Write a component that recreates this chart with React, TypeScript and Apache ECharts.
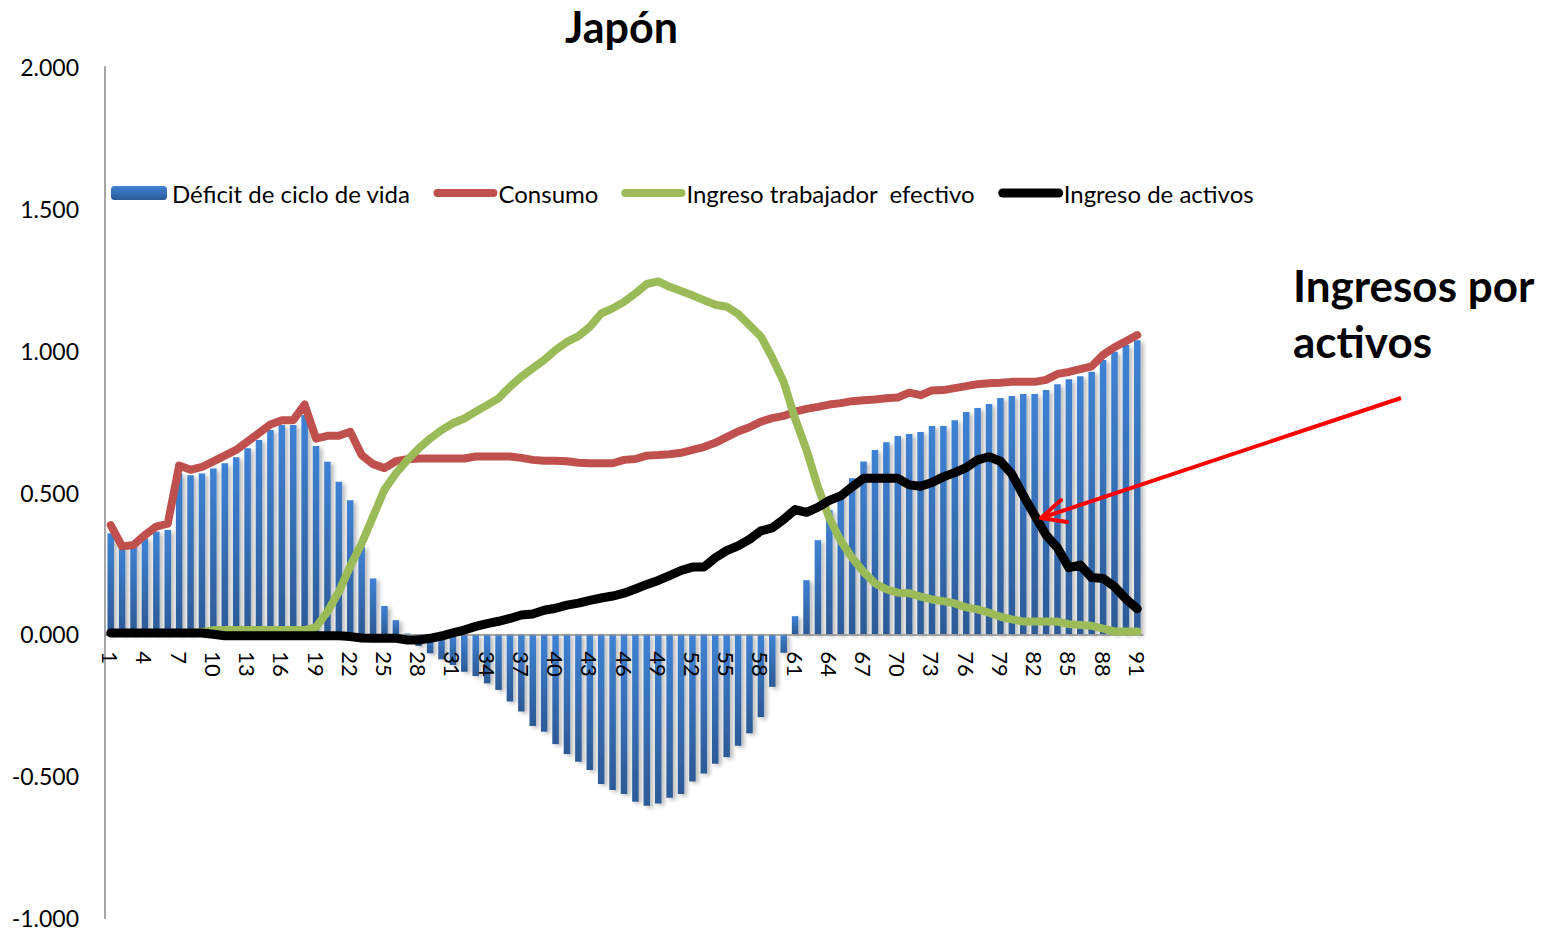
import React, { useEffect, useRef } from "react";
import * as echarts from "echarts";

const categories: string[] = Array.from({ length: 91 }, (_, i) => String(i + 1));

const deficitCicloVida = [
  0.356, 0.32, 0.326, 0.338, 0.362, 0.368, 0.567, 0.561, 0.567, 0.585,
  0.603, 0.624, 0.656, 0.685, 0.72, 0.738, 0.738, 0.773, 0.664, 0.608,
  0.538, 0.473, 0.309, 0.197, 0.1, 0.05, 0.003, -0.041, -0.067, -0.088,
  -0.108, -0.132, -0.147, -0.173, -0.196, -0.237, -0.272, -0.323, -0.343, -0.387,
  -0.422, -0.449, -0.478, -0.528, -0.549, -0.563, -0.59, -0.604, -0.596, -0.576,
  -0.563, -0.519, -0.491, -0.456, -0.433, -0.393, -0.349, -0.292, -0.185, -0.065,
  0.064, 0.191, 0.332, 0.438, 0.5, 0.55, 0.609, 0.65, 0.677, 0.699,
  0.706, 0.713, 0.734, 0.734, 0.755, 0.784, 0.798, 0.812, 0.833, 0.84,
  0.847, 0.847, 0.861, 0.882, 0.899, 0.91, 0.926, 0.967, 0.996, 1.02,
  1.037,
];

const consumo = [
  0.385, 0.31, 0.315, 0.35, 0.38, 0.39, 0.595, 0.58, 0.59, 0.61,
  0.63, 0.65, 0.68, 0.71, 0.74, 0.755, 0.755, 0.81, 0.69, 0.7,
  0.7, 0.714, 0.632, 0.6, 0.586, 0.61, 0.617, 0.62, 0.62, 0.62,
  0.62, 0.62, 0.627, 0.627, 0.627, 0.627, 0.622, 0.615, 0.612, 0.612,
  0.61, 0.605, 0.603, 0.603, 0.603, 0.615, 0.618, 0.63, 0.632, 0.635,
  0.64, 0.65, 0.66, 0.675, 0.695, 0.715, 0.73, 0.75, 0.762, 0.77,
  0.785, 0.795, 0.802, 0.81, 0.815, 0.822, 0.825, 0.828, 0.832, 0.835,
  0.852, 0.843, 0.86, 0.861, 0.868, 0.875, 0.882, 0.885, 0.887, 0.89,
  0.89, 0.89, 0.897, 0.918, 0.925, 0.935, 0.945, 0.985, 1.012, 1.033,
  1.055,
];

const ingresoTrabajador = [
  0.005, 0.005, 0.005, 0.005, 0.005, 0.005, 0.005, 0.005, 0.008, 0.015,
  0.015, 0.015, 0.015, 0.015, 0.015, 0.015, 0.015, 0.015, 0.025, 0.08,
  0.15, 0.24, 0.32, 0.415, 0.51, 0.567, 0.614, 0.655, 0.69, 0.72,
  0.744, 0.761, 0.785, 0.808, 0.832, 0.873, 0.908, 0.938, 0.967, 1.002,
  1.031, 1.051, 1.084, 1.131, 1.149, 1.172, 1.202, 1.235, 1.244, 1.225,
  1.21, 1.195, 1.178, 1.162, 1.155, 1.13, 1.09, 1.05, 0.975, 0.89,
  0.76, 0.65, 0.52, 0.41, 0.33, 0.27, 0.22, 0.18, 0.159, 0.147,
  0.145, 0.133, 0.123, 0.117, 0.109, 0.095, 0.088, 0.076, 0.062, 0.053,
  0.045, 0.045, 0.045, 0.045, 0.036, 0.033, 0.03, 0.02, 0.01, 0.01,
  0.01,
];

const ingresoActivos = [
  0.005, 0.005, 0.005, 0.005, 0.005, 0.005, 0.005, 0.005, 0.005, 0.0,
  -0.005, -0.005, -0.005, -0.005, -0.005, -0.005, -0.005, -0.005, -0.005, -0.005,
  -0.005, -0.008, -0.013, -0.014, -0.014, -0.014, -0.02, -0.02, -0.014, -0.006,
  0.005, 0.015, 0.028, 0.038, 0.046, 0.056, 0.068, 0.072, 0.085, 0.092,
  0.103, 0.11, 0.12, 0.128, 0.135, 0.145, 0.16, 0.176, 0.19, 0.207,
  0.225, 0.237, 0.237, 0.27, 0.295, 0.312, 0.335, 0.365, 0.375, 0.405,
  0.44, 0.43, 0.448, 0.472, 0.488, 0.52, 0.55, 0.55, 0.55, 0.55,
  0.527, 0.522, 0.535, 0.555, 0.57, 0.588, 0.615, 0.626, 0.61, 0.565,
  0.49, 0.42, 0.35, 0.305, 0.235, 0.244, 0.2, 0.197, 0.168, 0.125,
  0.09,
];

const seriesNames = [
  "Déficit de ciclo de vida",
  "Consumo",
  "Ingreso trabajador  efectivo",
  "Ingreso de activos",
];

const titleText = "Japón";
const annotationText = "Ingresos por\nactivos";

const Y_MIN = -1;
const Y_MAX = 2;
const GRID_TOP = 67;
const GRID_HEIGHT = 851;

const FONT = "Lato, 'Open Sans', sans-serif";

export default function App() {
  const ref = useRef<HTMLDivElement>(null);

  useEffect(() => {
    if (!ref.current) return;
    const chart = echarts.init(ref.current, null, { renderer: "svg" });
    const lineSeries = (name: string, data: number[], color: string, width: number) => ({
      name,
      type: "line",
      data,
      symbol: "none",
      z: 20,
      lineStyle: { color, width, cap: "round", join: "round" },
      itemStyle: { color },
    });
    // x axis sits at value 0: shift it up from the grid bottom by the share of the range below zero
    const zeroOffset = -GRID_HEIGHT * ((0 - Y_MIN) / (Y_MAX - Y_MIN));
    chart.setOption({
      animation: false,
      backgroundColor: "#ffffff",
      textStyle: { fontFamily: FONT },
      title: {
        text: titleText,
        left: 560,
        top: 0,
        textStyle: { fontFamily: FONT, fontWeight: "bold", fontSize: 43, color: "#000" },
      },
      legend: {
        left: 106,
        top: 176,
        itemWidth: 56,
        itemHeight: 14,
        itemGap: 23,
        textStyle: { fontSize: 24, color: "#000", fontFamily: FONT },
        lineStyle: { width: "inherit", cap: "round" },
        data: [
          { name: seriesNames[0] },
          { name: seriesNames[1], itemStyle: { opacity: 0 } },
          { name: seriesNames[2], itemStyle: { opacity: 0 } },
          { name: seriesNames[3], itemStyle: { opacity: 0 } },
        ],
      },
      grid: {
        left: 105,
        top: GRID_TOP,
        width: 1038,
        height: GRID_HEIGHT,
        containLabel: false,
        outerBoundsMode: "none",
      },
      xAxis: {
        type: "category",
        data: categories,
        boundaryGap: true,
        z: 10,
        position: "bottom",
        offset: zeroOffset,
        axisLine: { onZero: false, lineStyle: { color: "#8c8c8c", width: 1.5 } },
        axisTick: { show: false },
        splitLine: { show: false },
        axisLabel: {
          interval: 2,
          rotate: -90,
          margin: 17,
          fontSize: 22,
          color: "#000",
          fontFamily: FONT,
        },
      },
      yAxis: {
        type: "value",
        min: Y_MIN,
        max: Y_MAX,
        interval: 0.5,
        axisLine: { show: true, lineStyle: { color: "#a6a6a6", width: 2 } },
        axisTick: { show: false },
        splitLine: { show: false },
        axisLabel: {
          formatter: (v: number) => v.toFixed(3),
          fontSize: 23,
          color: "#000",
          margin: 26,
          fontFamily: FONT,
        },
      },
      series: [
        {
          name: seriesNames[0],
          type: "bar",
          data: deficitCicloVida,
          barWidth: 6.5,
          z: 2,
          itemStyle: {
            color: new echarts.graphic.LinearGradient(0, 0, 0, 1, [
              { offset: 0, color: "#3f82d4" },
              { offset: 1, color: "#2c5a96" },
            ]),
            shadowColor: "rgba(0,0,0,0.28)",
            shadowBlur: 4,
            shadowOffsetX: 3,
            shadowOffsetY: 2,
          },
        },
        lineSeries(seriesNames[1], consumo, "#c0504d", 8),
        lineSeries(seriesNames[2], ingresoTrabajador, "#9bbb59", 8),
        lineSeries(seriesNames[3], ingresoActivos, "#000000", 9),
      ],
      graphic: [
        {
          type: "text",
          left: 1293,
          top: 257,
          z: 100,
          style: {
            text: annotationText,
            fontFamily: FONT,
            fontWeight: "bold",
            fontSize: 44,
            lineHeight: 56,
            fill: "#000",
          },
        },
        {
          type: "line",
          z: 100,
          shape: { x1: 1401, y1: 398, x2: 1044, y2: 517 },
          style: { stroke: "#ff0000", lineWidth: 4 },
        },
        {
          type: "polyline",
          z: 100,
          shape: { points: [[1061, 500], [1041, 518], [1067, 522]] },
          style: { stroke: "#ff0000", lineWidth: 4, fill: null, lineCap: "round", lineJoin: "round" },
        },
      ],
    });
    return () => chart.dispose();
  }, []);

  return (
    <div
      ref={ref}
      style={{ position: "fixed", left: 0, top: 0, width: 1549, height: 931, background: "#fff" }}
    />
  );
}
